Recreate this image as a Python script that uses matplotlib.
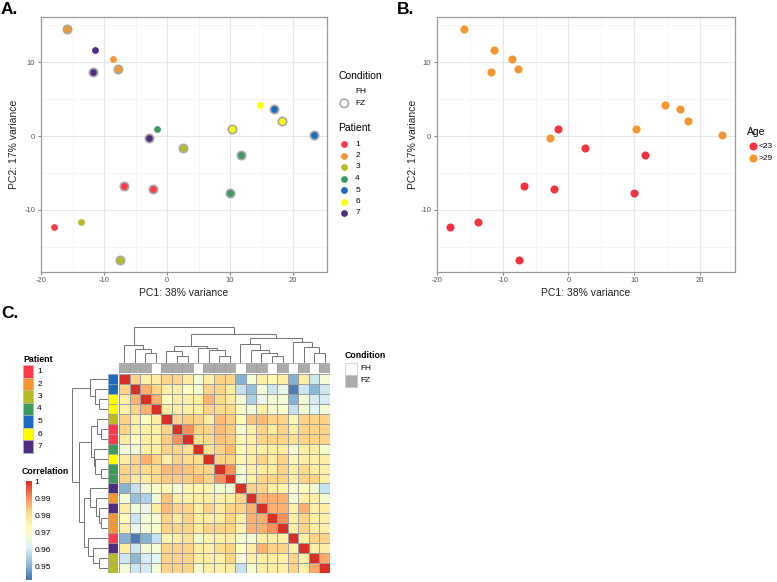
import numpy as np
import matplotlib
matplotlib.use("Agg")
import matplotlib.pyplot as plt
from matplotlib.colors import LinearSegmentedColormap
from matplotlib.patches import Rectangle

plt.rcParams['font.family'] = ['Liberation Sans', 'DejaVu Sans']
plt.rcParams['axes.unicode_minus'] = False

# PCA scores
pc1 = [-15.95, -11.39, -8.66, -11.75, -7.75, -1.62, -2.89, 2.53, 10.28, 14.73,
       17.01, 18.18, 23.39, 11.70, 9.97, -6.78, -2.18, -18.03, -13.72, -7.49]
pc2 = [14.5, 11.71, 10.5, 8.65, 9.05, 0.90, -0.32, -1.62, 0.99, 4.14,
       3.65, 2.03, 0.09, -2.61, -7.75, -6.80, -7.12, -12.34, -11.67, -16.80]
patient = [2, 7, 2, 7, 2, 4, 7, 3, 6, 6, 5, 6, 5, 4, 4, 1, 1, 1, 3, 3]
condition = ['FZ', 'FH', 'FH', 'FZ', 'FZ', 'FH', 'FZ', 'FZ', 'FZ', 'FH',
             'FZ', 'FZ', 'FZ', 'FZ', 'FZ', 'FZ', 'FZ', 'FH', 'FH', 'FZ']
age_groups = ['<23', '>29']
age_of_patient = {1: '<23', 2: '>29', 3: '<23', 4: '<23', 5: '>29', 6: '>29', 7: '>29'}

patient_colors = {1: '#FF3B4B', 2: '#F7962F', 3: '#B7BC25', 4: '#3C9A5F',
                  5: '#1B6CBF', 6: '#FFFF00', 7: '#4E2C82'}
age_colors = {'<23': '#F8333F', '>29': '#F7962F'}

# heatmap: sample order, annotations and lower triangle of the correlation matrix
hm_patient = [5, 5, 6, 6, 3, 1, 1, 4, 6, 4, 4, 7, 2, 7, 2, 2, 1, 7, 3, 3]
hm_condition = ['FZ', 'FZ', 'FZ', 'FH', 'FZ', 'FZ', 'FZ', 'FH', 'FZ', 'FZ',
                'FZ', 'FH', 'FZ', 'FZ', 'FH', 'FZ', 'FH', 'FZ', 'FH', 'FZ']
corr_lower = [
    [],
    [0.982],
    [0.976, 0.986],
    [0.976, 0.982, 0.986],
    [0.982, 0.976, 0.971, 0.976],
    [0.982, 0.976, 0.976, 0.976, 0.982],
    [0.977, 0.971, 0.976, 0.976, 0.983, 0.990],
    [0.967, 0.967, 0.976, 0.976, 0.982, 0.982, 0.980],
    [0.976, 0.982, 0.986, 0.982, 0.976, 0.982, 0.981, 0.980],
    [0.982, 0.982, 0.981, 0.981, 0.985, 0.985, 0.984, 0.982, 0.982],
    [0.982, 0.977, 0.977, 0.981, 0.983, 0.983, 0.983, 0.985, 0.982, 0.990],
    [0.950, 0.958, 0.967, 0.970, 0.973, 0.968, 0.974, 0.973, 0.974, 0.968, 0.967],
    [0.967, 0.952, 0.955, 0.967, 0.984, 0.976, 0.976, 0.976, 0.976, 0.976, 0.976, 0.982],
    [0.976, 0.967, 0.964, 0.976, 0.985, 0.982, 0.982, 0.976, 0.982, 0.977, 0.982, 0.982, 0.986],
    [0.973, 0.959, 0.967, 0.968, 0.982, 0.977, 0.982, 0.976, 0.976, 0.977, 0.982, 0.976, 0.986, 0.986],
    [0.976, 0.964, 0.967, 0.969, 0.982, 0.982, 0.982, 0.977, 0.982, 0.982, 0.982, 0.975, 0.986, 0.986, 0.990],
    [0.950, 0.943, 0.950, 0.958, 0.974, 0.976, 0.980, 0.968, 0.974, 0.976, 0.976, 0.968, 0.968, 0.976, 0.976, 0.976],
    [0.976, 0.959, 0.967, 0.967, 0.982, 0.982, 0.982, 0.976, 0.976, 0.981, 0.982, 0.971, 0.976, 0.986, 0.982, 0.982, 0.976],
    [0.959, 0.951, 0.960, 0.962, 0.982, 0.982, 0.982, 0.976, 0.976, 0.976, 0.982, 0.967, 0.976, 0.976, 0.976, 0.976, 0.982, 0.976],
    [0.967, 0.959, 0.960, 0.967, 0.982, 0.982, 0.982, 0.968, 0.976, 0.976, 0.976, 0.958, 0.968, 0.976, 0.976, 0.976, 0.982, 0.976, 0.987],
]
# clustering tree (height, left, right), leaves are positions in the order above
tree = (106,
        (53, 0, (40, 1, (28, 2, 3))),
        (85,
         (50, (33, 4, (21, 5, 6)), (43, 7, (38, 8, (21, 9, 10)))),
         (73, (55, 11, (36, 12, (28, 13, (21, 14, 15)))),
          (60, 16, (45, 17, (28, 18, 19))))))

W, H = 777, 582
fig = plt.figure(figsize=(W / 100, H / 100), dpi=100)


def px_axes(l, t, r, b):
    return fig.add_axes([l / W, 1 - b / H, (r - l) / W, (b - t) / H])


def pca_panel(ax):
    ax.set_xlim(-20.07, 25.4)
    ax.set_ylim(-18.4, 16.1)
    ax.set_xticks([-20, -10, 0, 10, 20])
    ax.set_yticks([-10, 0, 10])
    ax.set_xticks([-15, -5, 5, 15], minor=True)
    ax.set_yticks([-15, -5, 5, 15], minor=True)
    ax.grid(which='major', color='#E6E6E6', lw=0.8)
    ax.grid(which='minor', color='#F1F1F1', lw=0.5)
    ax.set_axisbelow(True)
    ax.tick_params(which='major', labelsize=5.5, labelcolor='#555555', length=2,
                   color='#888888', pad=2)
    ax.tick_params(which='minor', length=0)
    for s in ax.spines.values():
        s.set_color('#9A9A9A')
        s.set_linewidth(0.9)


# ---- panel A
axA = px_axes(40.7, 17.3, 327, 271.7)
pca_panel(axA)
for i in range(len(pc1)):
    if condition[i] == 'FZ':
        axA.scatter(pc1[i], pc2[i], s=36, color=patient_colors[patient[i]],
                    edgecolors='#A8A8A8', linewidths=1.2, zorder=3)
    else:
        axA.scatter(pc1[i], pc2[i], s=24, color=patient_colors[patient[i]],
                    linewidths=0, zorder=3)

# ---- panel B
axB = px_axes(436.7, 17.3, 735.3, 271.7)
pca_panel(axB)
for g in age_groups:
    xs = [pc1[i] for i in range(len(pc1)) if age_of_patient[patient[i]] == g]
    ys = [pc2[i] for i in range(len(pc1)) if age_of_patient[patient[i]] == g]
    axB.scatter(xs, ys, s=34, color=age_colors[g], linewidths=0, zorder=3)

# ---- panel C heatmap
n = len(hm_patient)
corr = np.ones((n, n))
for i in range(n):
    for j in range(i):
        corr[i, j] = corr_lower[i][j]
        corr[j, i] = corr_lower[i][j]

vmin, vmax = 0.942, 1.0
cmap = LinearSegmentedColormap.from_list(
    'rdylbu', ['#4575B4', '#91BFDB', '#E0F3F8', '#FFFFBF', '#FEE090', '#FC8D59', '#D73027'])
cell_edge = '#9C9C9C'

axH = px_axes(119, 374, 330, 573)
axH.pcolormesh(corr, cmap=cmap, vmin=vmin, vmax=vmax, edgecolors=cell_edge, linewidth=0.5)
axH.set_xlim(0, n)
axH.set_ylim(n, 0)
axH.axis('off')

cond_colors = {'FH': '#FFFFFF', 'FZ': '#ABABAB'}
axCa = px_axes(119, 363, 330, 372.5)
for j, c in enumerate(hm_condition):
    axCa.add_patch(Rectangle((j, 0), 1, 1, facecolor=cond_colors[c], edgecolor=cell_edge, lw=0.5))
axCa.set_xlim(0, n)
axCa.set_ylim(0, 1)
axCa.axis('off')

axRa = px_axes(108.5, 374, 118.2, 573)
for i, p in enumerate(hm_patient):
    axRa.add_patch(Rectangle((0, i), 1, 1, facecolor=patient_colors[p], edgecolor=cell_edge, lw=0.5))
axRa.set_xlim(0, 1)
axRa.set_ylim(n, 0)
axRa.axis('off')


def draw_tree(ax, node, left_side):
    if isinstance(node, int):
        return node + 0.5, 0
    h, a, b = node
    pa, ha = draw_tree(ax, a, left_side)
    pb, hb = draw_tree(ax, b, left_side)
    segs = [([pa, pa], [ha, h]), ([pa, pb], [h, h]), ([pb, pb], [hb, h])]
    for xs, ys in segs:
        if left_side:
            ax.plot(ys, xs, color='#707070', lw=0.7, solid_capstyle='butt')
        else:
            ax.plot(xs, ys, color='#707070', lw=0.7, solid_capstyle='butt')
    return (pa + pb) / 2, h


axDt = px_axes(119, 326.5, 330, 362.7)
draw_tree(axDt, tree, False)
axDt.set_xlim(0, n)
axDt.set_ylim(0, tree[0] + 0.5)
axDt.axis('off')

axDl = px_axes(72.2, 374, 108.3, 573)
draw_tree(axDl, tree, True)
axDl.set_xlim(tree[0] + 0.5, 0)
axDl.set_ylim(n, 0)
axDl.axis('off')

axCb = px_axes(26, 481, 32, 580)
grad = np.linspace(vmin, vmax, 200).reshape(-1, 1)
axCb.imshow(grad, cmap=cmap, vmin=vmin, vmax=vmax, aspect='auto', origin='lower',
            extent=[0, 1, vmin, vmax])
axCb.set_ylim(vmin, vmax)
axCb.set_xticks([])
axCb.set_yticks([0.95, 0.96, 0.97, 0.98, 0.99, 1.0])
axCb.set_yticklabels(['0.95', '0.96', '0.97', '0.98', '0.99', '1'])
axCb.yaxis.tick_right()
axCb.tick_params(length=0, labelsize=6, pad=2)
for s in axCb.spines.values():
    s.set_visible(False)

# ---- overlay for texts and legends (pixel coordinates)
ov = fig.add_axes([0, 0, 1, 1])
ov.set_xlim(0, W)
ov.set_ylim(H, 0)
ov.axis('off')

ov.text(1, 10, 'A.', fontsize=12.5, fontweight='bold', va='center', ha='left')
ov.text(397, 10, 'B.', fontsize=12.5, fontweight='bold', va='center', ha='left')
ov.text(1, 313, 'C.', fontsize=12.5, fontweight='bold', va='center', ha='left')

lab = dict(fontsize=7.5, color='#222222', va='center', ha='center')
ov.text(183.9, 293, 'PC1: 38% variance', **lab)
ov.text(586, 293, 'PC1: 38% variance', **lab)
ov.text(14, 144.5, 'PC2: 17% variance', rotation=90, **lab)
ov.text(413, 144.5, 'PC2: 17% variance', rotation=90, **lab)

# panel A legends
ov.text(338.3, 76.3, 'Condition', fontsize=7.5, va='center', ha='left')
ov.text(355.3, 91.3, 'FH', fontsize=6, va='center', ha='left')
ov.scatter([344.3], [103.3], s=36, facecolors='none', edgecolors='#A8A8A8', linewidths=1.2)
ov.text(355.3, 103.3, 'FZ', fontsize=6, va='center', ha='left')
ov.text(338.3, 128.3, 'Patient', fontsize=7.5, va='center', ha='left')
for k, p in enumerate(sorted(patient_colors)):
    ov.scatter([344.3], [144 + 11.5 * k], s=24, color=patient_colors[p], linewidths=0)
    ov.text(355.3, 144 + 11.5 * k, str(p), fontsize=6, va='center', ha='left')

# panel B legend
ov.text(746.7, 131.7, 'Age', fontsize=7.5, va='center', ha='left')
for k, g in enumerate(age_groups):
    ov.scatter([752.7], [146 + 12 * k], s=34, color=age_colors[g], linewidths=0)
    ov.text(758.5, 146 + 12 * k, g, fontsize=6, va='center', ha='left')

# panel C legends
ov.text(345, 356, 'Condition', fontsize=6.3, fontweight='bold', va='center', ha='left')
for k, c in enumerate(['FH', 'FZ']):
    ov.add_patch(Rectangle((345, 362.5 + 12 * k), 11.5, 12, facecolor=cond_colors[c],
                           edgecolor='#C8C8C8', lw=0.5))
    ov.text(360, 368.5 + 12 * k, c, fontsize=6, va='center', ha='left')

ov.text(23.3, 359.3, 'Patient', fontsize=6.3, fontweight='bold', va='center', ha='left')
for k, p in enumerate(sorted(patient_colors)):
    ov.add_patch(Rectangle((23.3, 365.3 + 12.5 * k), 10, 12.5, facecolor=patient_colors[p],
                           edgecolor='#BBBBBB', lw=0.4))
    ov.text(37.3, 371.5 + 12.5 * k, str(p), fontsize=6, va='center', ha='left')
ov.text(22, 471.7, 'Correlation', fontsize=6.3, fontweight='bold', va='center', ha='left')

fig.savefig('out.png', dpi=100, facecolor='white')
